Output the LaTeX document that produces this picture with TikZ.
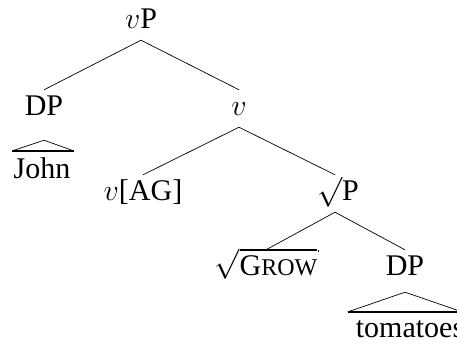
\RequirePackage{fix-cm}
\documentclass[tikz,border=0pt]{standalone}
\usepackage{fontspec}
\setmainfont{Liberation Serif}
\newlength\growwd
\begin{document}
\begin{tikzpicture}[x=1pt,y=1pt,
  lab/.style={anchor=base,inner xsep=0pt,inner ysep=5pt,text height=20pt,text depth=7pt,font=\fontsize{30}{36}\selectfont},
  branch/.style={line width=0.7pt},
  roofbase/.style={line width=2pt},
  roofside/.style={line width=0.7pt},
  radbar/.style={line width=2.2pt}]
\settowidth\growwd{\fontsize{30}{36}\selectfont G\fontsize{24}{24}\selectfont ROW}
\useasboundingbox (0,0) rectangle (457,-343);
\node[lab] (vP) at (141,-28) {$v$P};
\node[lab] (DP1) at (44,-115) {DP};
\node[lab] (v) at (239,-115) {$v$};
\node[lab] (John) at (42,-178) {John};
\node[lab] (vAG) at (143,-200) {$v$[AG]};
\node[lab] (rP) at (338,-200) {$\surd$P};
\node[lab] (grow) at (266,-275) {$\sqrt{\hbox{G\fontsize{24}{24}\selectfont ROW}}$};
\node[lab] (DP2) at (405,-275) {DP};
\node[lab] (tom) at (410,-337) {tomatoes};
\draw[branch] (vP.south) -- (DP1.north);
\draw[branch] (vP.south) -- (v.north);
\draw[branch] (v.south) -- (vAG.north);
\draw[branch] (v.south) -- ([xshift=-3pt]rP.north);
\draw[branch] ([xshift=-3pt]rP.south) -- (grow.north);
\draw[branch] ([xshift=-3pt]rP.south) -- (DP2.north);
\draw[radbar] ([xshift=-\growwd,yshift=-1pt]grow.north east) -- ([xshift=1pt,yshift=-1pt]grow.north east);
\coordinate (a1) at ([yshift=-13pt]DP1.south);
\coordinate (l1) at ([xshift=-1pt,yshift=2pt]John.north west);
\coordinate (r1) at ([xshift=3pt,yshift=2pt]John.north east);
\draw[roofside] (l1) -- (a1) -- (r1);
\draw[roofbase] (l1) -- (r1);
\coordinate (a2) at ([yshift=-5pt]DP2.south);
\coordinate (l2) at ([xshift=-57pt]DP2.center |- tom.north);
\coordinate (r2) at ([xshift=57pt]DP2.center |- tom.north);
\draw[roofside] (l2) -- (a2) -- (r2);
\draw[roofbase] (l2) -- (r2);
\end{tikzpicture}
\end{document}
